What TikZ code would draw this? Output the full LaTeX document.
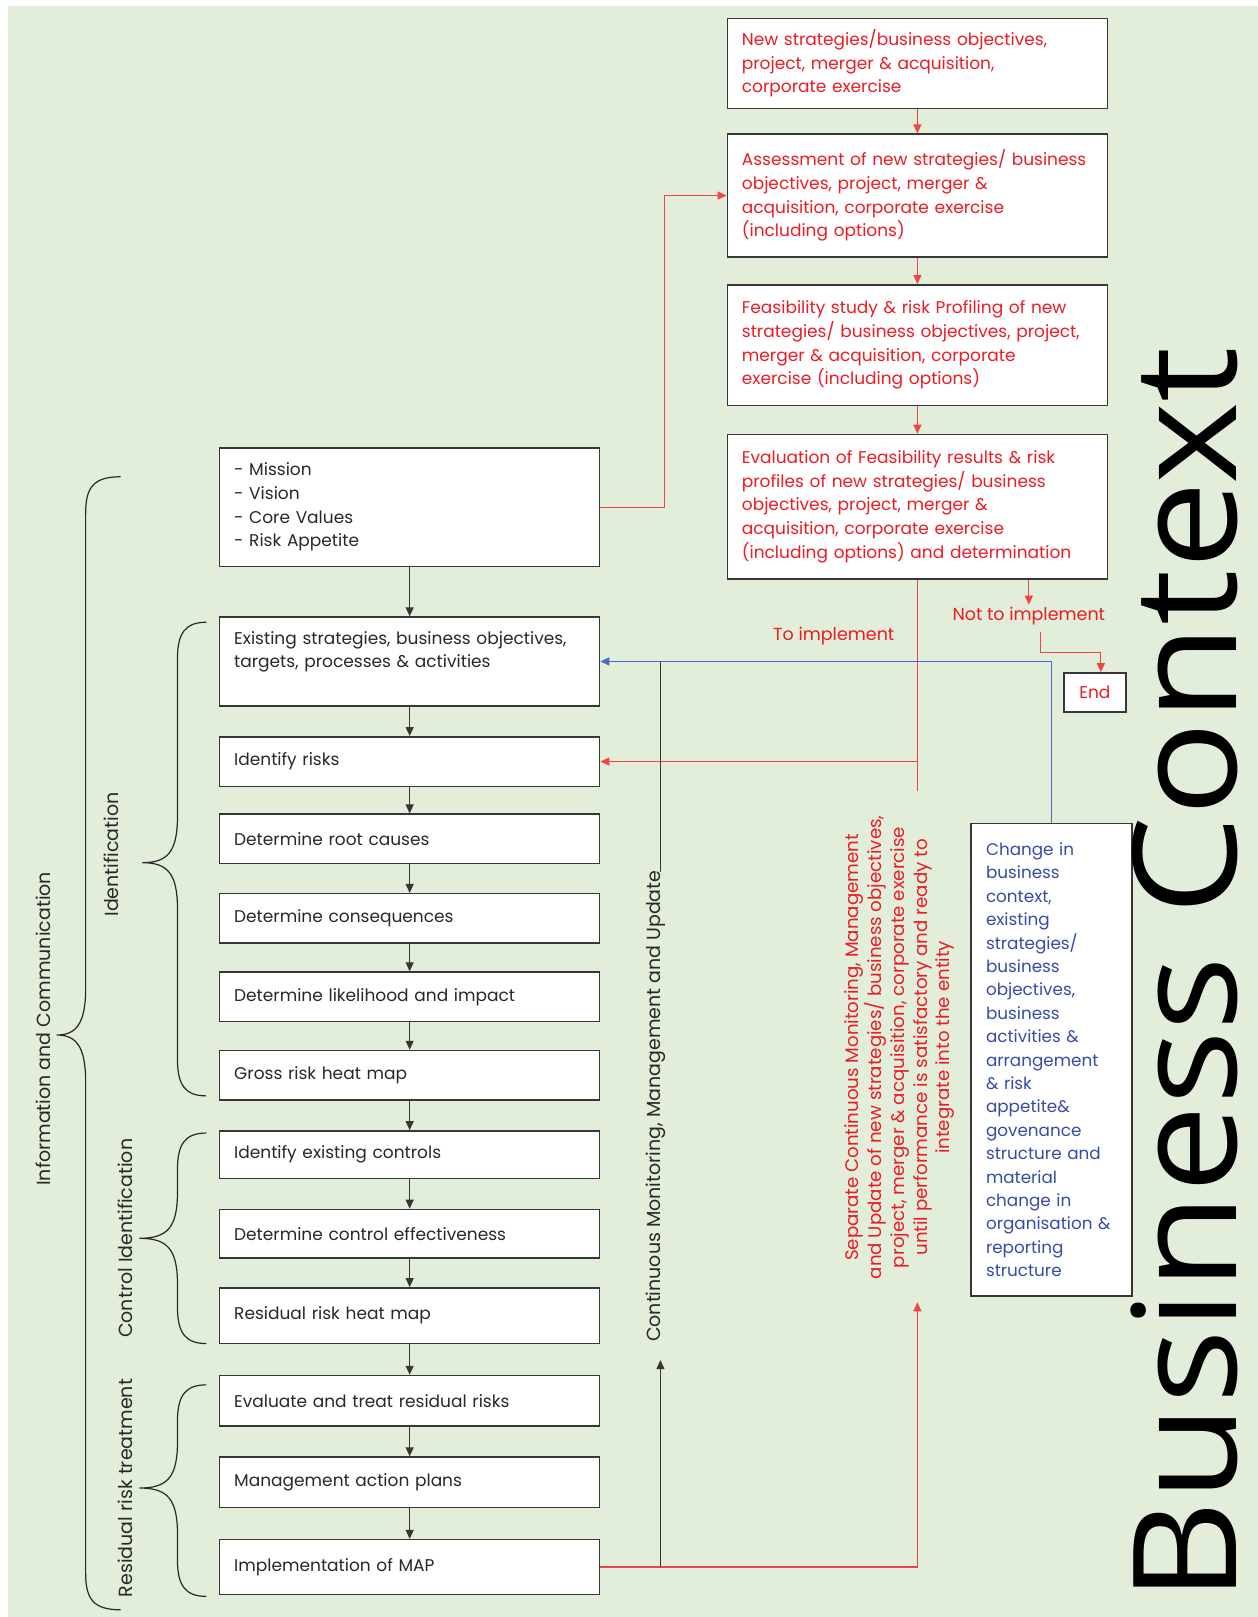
\documentclass[tikz,border=0pt]{standalone}
\usepackage{fontspec}
\setmainfont{Poppins}
\newfontfamily\bcfont{Open Sans}
\usetikzlibrary{arrows.meta}
\definecolor{bggreen}{RGB}{226,237,218}
\definecolor{boxline}{RGB}{55,55,55}
\definecolor{redtxt}{RGB}{236,28,36}
\definecolor{redln}{RGB}{238,70,70}
\definecolor{bluetxt}{RGB}{55,75,170}
\definecolor{blueln}{RGB}{70,110,190}
\definecolor{graytxt}{RGB}{40,40,40}
\newcommand\bodyfont{\fontsize{17}{23.7}\selectfont}
\newcommand\lblfont{\fontsize{19}{23}\selectfont}
\newcommand\mybrace[6]{%
  \draw[bracel] (#1,#4) .. controls (#2+8,#4) and (#2,#4+10) .. (#2,#4+35)
    -- (#2,#5-45) .. controls (#2,#5-10) and (#2-10,#5) .. (#3,#5)
    .. controls (#2-10,#5) and (#2,#5+10) .. (#2,#5+45)
    -- (#2,#6-35) .. controls (#2,#6-10) and (#2+8,#6) .. (#1,#6);}
\begin{document}
\begin{tikzpicture}[x=1.032pt,y=-1.032pt,
  lbox/.style={draw=boxline, fill=white, line width=1.5pt, minimum width=380pt,
     text width=351pt, inner xsep=14.5pt, align=left, font=\bodyfont, text=graytxt},
  rbox/.style={lbox, text=redtxt},
  lbl/.style={font=\lblfont, text=graytxt, inner sep=1pt},
  redlbl/.style={font=\fontsize{17.5}{22}\selectfont, text=redtxt, inner sep=1pt},
  blk/.style={draw=boxline, line width=1pt, -{Triangle[length=9pt,width=8pt]}},
  blkline/.style={draw=boxline, line width=1pt},
  redl/.style={draw=redln, line width=1.2pt, -{Triangle[length=9pt,width=8pt]}},
  redline/.style={draw=redln, line width=1.2pt},
  bluel/.style={draw=blueln, line width=1.6pt, -{Triangle[length=9pt,width=8pt]}},
  bracel/.style={draw=graytxt, line width=1.2pt}]
\useasboundingbox (0,0) rectangle (1219,1567);
\fill[white] (0,0) rectangle (1219,1567);
\fill[bggreen] (8,6) rectangle (1219,1567);

% left column
\node[lbox, minimum height=118.7pt] (mission) at (397,491.5) {- Mission\\- Vision\\- Core Values\\- Risk Appetite};
\node[lbox, minimum height=88.8pt] (exist) at (397,641) {Existing strategies, business objectives,\\targets, processes \& activities\\~};
\node[lbox, minimum height=49.5pt] (irisks) at (397,738) {Identify risks};
\node[lbox, minimum height=49.5pt] (root) at (397,813) {Determine root causes};
\node[lbox, minimum height=49.5pt] (conseq) at (397,890) {Determine consequences};
\node[lbox, minimum height=49.5pt] (likeli) at (397,966) {Determine likelihood and impact};
\node[lbox, minimum height=49.5pt] (gross) at (397,1042) {Gross risk heat map};
\node[lbox, minimum height=47.5pt] (ictrl) at (397,1119) {Identify existing controls};
\node[lbox, minimum height=48.5pt] (ceff) at (397,1195.5) {Determine control effectiveness};
\node[lbox, minimum height=55.7pt] (resid) at (397,1275) {Residual risk heat map};
\node[lbox, minimum height=50.6pt] (evalt) at (397,1357.5) {Evaluate and treat residual risks};
\node[lbox, minimum height=50.6pt] (mapl) at (397,1436.5) {Management action plans};
\node[lbox, minimum height=54.7pt] (impl) at (397,1518.5) {Implementation of MAP};

\draw[blk] (mission) -- (exist);
\draw[blk] (exist) -- (irisks);
\draw[blk] (irisks) -- (root);
\draw[blk] (root) -- (conseq);
\draw[blk] (conseq) -- (likeli);
\draw[blk] (likeli) -- (gross);
\draw[blk] (gross) -- (ictrl);
\draw[blk] (ictrl) -- (ceff);
\draw[blk] (ceff) -- (resid);
\draw[blk] (resid) -- (evalt);
\draw[blk] (evalt) -- (mapl);
\draw[blk] (mapl) -- (impl);

% right column
\node[rbox, minimum height=89.8pt] (b1) at (889,61.5) {New strategies/business objectives,\\project, merger \& acquisition,\\corporate exercise};
\node[rbox, minimum height=122.8pt] (b2) at (889,189.5) {Assessment of new strategies/ business\\objectives, project, merger \&\\acquisition, corporate exercise\\(including options)};
\node[rbox, minimum height=120.7pt] (b3) at (889,334.5) {Feasibility study \& risk Profiling of new\\strategies/ business objectives, project,\\merger \& acquisition, corporate\\exercise (including options)};
\node[rbox, minimum height=144.5pt] (b4) at (889,491) {Evaluation of Feasibility results \& risk\\profiles of new strategies/ business\\objectives, project, merger \&\\acquisition, corporate exercise\\(including options) and determination};
\draw[redl] (b1) -- (b2);
\draw[redl] (b2) -- (b3);
\draw[redl] (b3) -- (b4);

\draw[redl] (mission.east) -- ++(62,0) |- (b2.west);

% to implement
\coordinate (sepTop) at (889,767);
\draw[redl] (b4.south) |- (irisks.east);
\draw[redline] (b4.south) -- (sepTop);
\node[redlbl] (tolbl) at (808,616) {To implement};

% not to implement
\coordinate (nti) at (997,586);
\draw[redl] (b4.south -| nti) -- (nti);
\node[redlbl] (ntilbl) at (997,597) {Not to implement};
\node[draw=boxline, fill=white, line width=1.5pt, minimum width=62pt, minimum height=39.2pt, font=\bodyfont, text=redtxt] (endbox) at (1061,671) {End};
\coordinate (ntistart) at (1008,612);
\draw[redl] (ntistart) -- ++(0,20) -| ([xshift=6pt]endbox.north);

% separate monitoring text
\node[rotate=90, font=\fontsize{18.2}{22.8}\selectfont, text=redtxt, align=center, inner sep=0pt] (septext) at (872,1015)
 {Separate Continuous Monitoring, Management\\and Update of new strategies/ business objectives,\\project, merger \& acquisition, corporate exercise\\until performance is satisfactory and ready to\\integrate into the entity};
\coordinate (sepBot) at (889,1262);
\draw[redl] (impl.east) -| (sepBot);

% continuous monitoring
\coordinate (cmArrow) at (640,1318);
\coordinate (cmTop) at (640,845);
\draw[blk] (cmArrow |- impl.east) -- (cmArrow);
\node[rotate=90, lbl] (cmtext) at (636,1072) {Continuous Monitoring, Management and Update};
\draw[blkline] (cmTop) -- (cmTop |- exist.east);

% change box
\node[draw=boxline, fill=white, line width=1.5pt, minimum width=161pt, minimum height=472.7pt,
   text width=131pt, inner xsep=15pt, align=left, font=\fontsize{16.8}{23.4}\selectfont, text=bluetxt] (change) at (1019,1027)
 {Change in\\business\\context,\\existing\\strategies/\\business\\objectives,\\business\\activities \&\\arrangement\\\& risk\\appetite\&\\govenance\\structure and\\material\\change in\\organisation \&\\reporting\\structure};
\draw[bluel] (change.north) |- (exist.east);

% braces and labels
\mybrace{117}{83}{55}{462}{1003}{1560}
\mybrace{200}{172}{138}{603}{836}{1062}
\mybrace{200}{172}{135}{1098}{1200}{1302}
\mybrace{200}{172}{135}{1342}{1442}{1547}
\node[rotate=90, lbl] (infolbl) at (42,997) {Information and Communication};
\node[rotate=90, lbl] (identlbl) at (108,828) {Identification};
\node[rotate=90, lbl] (ctrllbl) at (121,1200) {Control Identification};
\node[rotate=90, lbl] (residlbl) at (121,1442) {Residual risk treatment};

% business context
\node[rotate=90, font=\bcfont\fontsize{144}{144}\selectfont, text=black, inner sep=0pt] (bc) at (1148,945) {\scalebox{1.09}[1]{Business Context}};
\end{tikzpicture}
\end{document}
